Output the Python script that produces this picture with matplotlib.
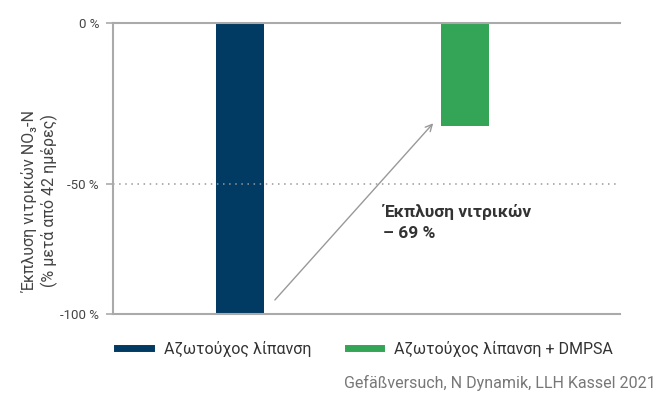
import matplotlib.pyplot as plt
import numpy as np
from matplotlib.lines import Line2D

plt.rcParams['font.family'] = ['Roboto', 'DejaVu Sans']

# data
labels = ['Αζωτούχος λίπανση', 'Αζωτούχος λίπανση + DMPSA']
values = [-100, -32]
colors = ['#013a63', '#34a456']
yticks = [0, -50, -100]
ytick_labels = ['0 %', '-50 %', '-100 %']
note = 'Έκπλυση νιτρικών\n– 69 %'
source = 'Gefäßversuch, N Dynamik, LLH Kassel 2021'


# the original graphic draws the upper half taller than the lower half
def fwd(v):
    v = np.asarray(v, dtype=float)
    return np.where(v >= -50, v * 161 / 50, -161 + (v + 50) * 130 / 50)


def inv(p):
    p = np.asarray(p, dtype=float)
    return np.where(p >= -161, p * 50 / 161, -50 + (p + 161) * 50 / 130)


fig = plt.figure(figsize=(6.64, 4.0), dpi=100)
ax = fig.add_axes([0.1702, 0.215, 0.7636, 0.7275])
ax.set_yscale('function', functions=(fwd, inv))

x = np.arange(len(values))
ax.bar(x, values, width=0.213, color=colors, zorder=2)

ax.set_ylim(-100, 0)
ax.set_xlim(-0.564, 1.689)
ax.axhline(-50, color='#999999', lw=1.1, ls=(0, (1, 3)), zorder=3)

ax.set_yticks(yticks)
ax.set_yticklabels(ytick_labels)
ax.yaxis.set_minor_locator(plt.NullLocator())
ax.tick_params(axis='y', length=5, width=1.2, color='#aaaaaa', pad=5,
               labelsize=9.5, labelcolor='#444444')
ax.set_xticks([])

for s in ['left', 'top', 'bottom']:
    ax.spines[s].set_color('#aaaaaa')
    ax.spines[s].set_linewidth(1.5)
    ax.spines[s].set_zorder(4)
ax.spines['right'].set_visible(False)

ax.set_ylabel('Έκπλυση νιτρικών NO₃-N\n(% μετά από 42 ημέρες)',
              fontsize=11.5, color='#444444', linespacing=1.2)
ax.yaxis.set_label_coords(-0.108, 0.39)

# arrow from first bar to second
ax.annotate('', xy=(0.867, -30.5), xytext=(0.147, -95.4),
            arrowprops=dict(arrowstyle='->', color='#999999', lw=1,
                            mutation_scale=12))
ax.text(0.636, -57.5, note, fontsize=12.5, fontweight='bold', color='#333333',
        va='top', ha='left', linespacing=1.5)

handles = [Line2D([0], [0], color=c, lw=5) for c in colors]
fig.legend(handles, labels, loc='center left', bbox_to_anchor=(0.155, 0.1275),
           ncol=2, frameon=False, fontsize=11.5, handlelength=2.1,
           handletextpad=0.8, columnspacing=2.3, labelcolor='#333333')

fig.text(0.987, 0.042, source, ha='right', va='center', fontsize=11.5,
         color='#777777')

fig.savefig('out.png', dpi=100)
